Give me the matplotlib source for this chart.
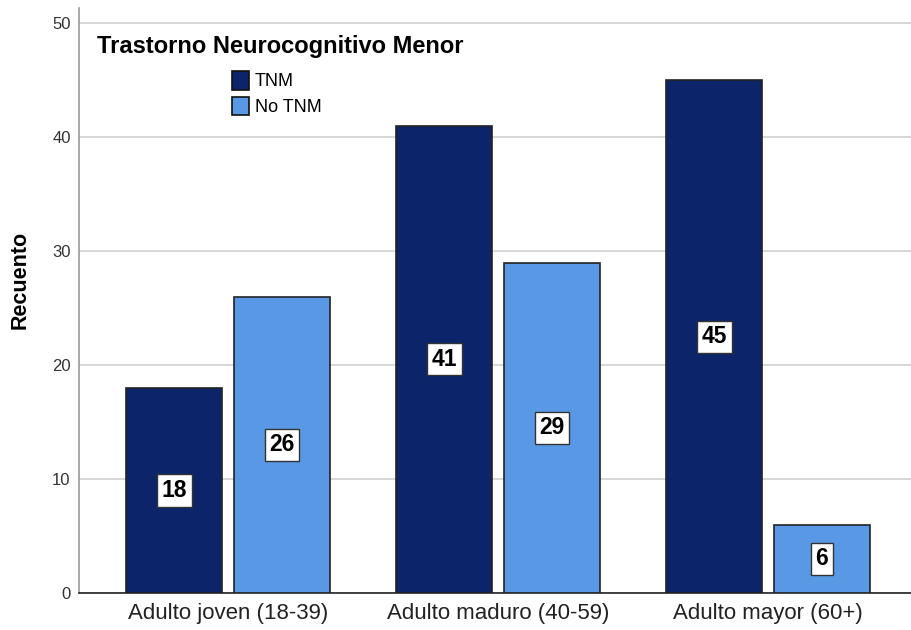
import numpy as np
import matplotlib
matplotlib.use("Agg")
import matplotlib.pyplot as plt
from matplotlib.patches import Patch

plt.rcParams['font.family'] = ['Liberation Sans', 'DejaVu Sans']

categorias = ["Adulto joven (18-39)", "Adulto maduro (40-59)", "Adulto mayor (60+)"]
tnm = [18, 41, 45]
no_tnm = [26, 29, 6]
series = ["TNM", "No TNM"]
colores = ["#0b246a", "#5898e4"]

fig = plt.figure(figsize=(9.12, 6.3), dpi=100)
ax = fig.add_axes([0.0866, 0.0587, 0.92, 0.928])

x = np.arange(len(categorias))
ancho = 0.356
sep = 0.021

for i, (vals, col) in enumerate(zip([tnm, no_tnm], colores)):
    pos = x + (-1 if i == 0 else 1) * (ancho / 2 + sep)
    ax.bar(pos, vals, width=ancho, color=col, edgecolor="#222222", linewidth=1.2, zorder=3)
    for p, v in zip(pos, vals):
        ax.text(p, v / 2, str(v), ha="center", va="center", fontsize=16.5, fontweight="bold",
                zorder=4, bbox=dict(boxstyle="square,pad=0.2", fc="white", ec="#333333", lw=1))

ax.set_xlim(-0.552, 2.555)
ax.set_ylim(0, 51.3)
ax.set_yticks([0, 10, 20, 30, 40, 50])
ax.set_xticks(x)
ax.set_xticklabels(categorias, fontsize=16, color="#222222")
ax.tick_params(axis="y", labelsize=12, length=0, pad=6, colors="#333333")
ax.tick_params(axis="x", length=0, pad=7)
ax.yaxis.grid(True, color="#cfcfcf", linewidth=1.2, zorder=0)
ax.set_axisbelow(True)

for s in ["top", "right"]:
    ax.spines[s].set_visible(False)
ax.spines["left"].set_color("#999999")
ax.spines["left"].set_linewidth(1.2)
ax.spines["bottom"].set_color("#222222")
ax.spines["bottom"].set_linewidth(1.2)

ax.set_ylabel("Recuento", fontsize=15.5, fontweight="bold")
# SPSS pone la etiqueta un poco por encima del centro
ax.yaxis.set_label_coords(-0.058, 0.535)

handles = [Patch(facecolor=c, edgecolor="#111111", linewidth=1.2) for c in colores]
fig.text(97 / 912, 1 - 47 / 630, "Trastorno Neurocognitivo Menor", fontsize=17,
         fontweight="bold", va="center", ha="left")
leg = fig.legend(handles, series, loc="upper left", bbox_to_anchor=(232 / 912, 1 - 71 / 630),
                 frameon=False, fontsize=13, handlelength=0.95, handleheight=1.2,
                 handletextpad=0.3, labelspacing=0.35, borderaxespad=0, borderpad=0)

fig.savefig("out.png", dpi=100)
